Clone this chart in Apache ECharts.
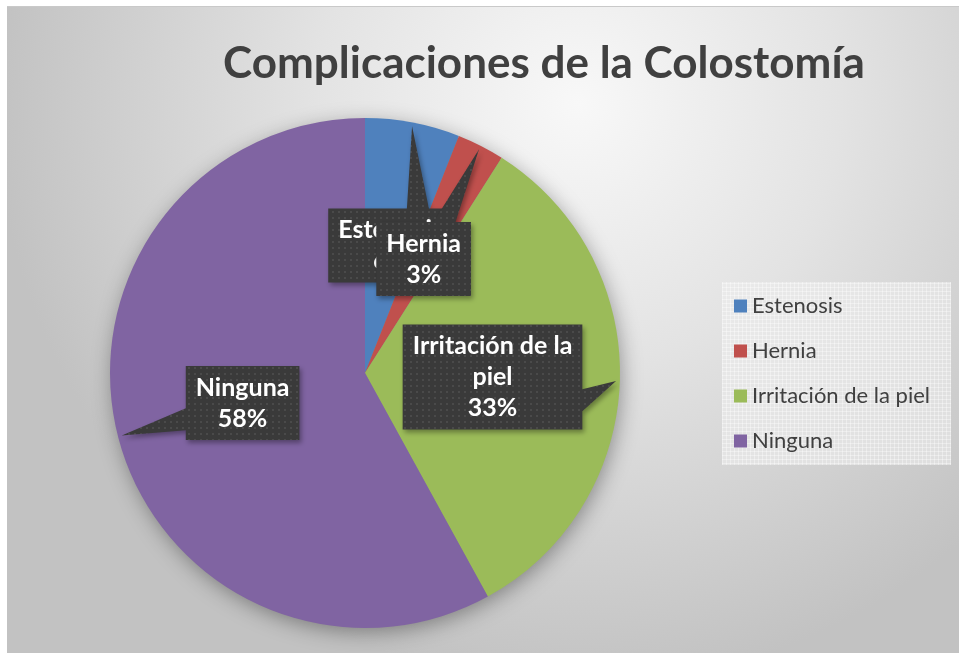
<!DOCTYPE html>
<html><head><meta charset="utf-8">
<script src="https://cdn.jsdelivr.net/npm/echarts@6/dist/echarts.min.js"></script>
<style>
html,body{margin:0;padding:0;background:#fff;width:959px;height:653px;overflow:hidden}
#chart{position:absolute;left:7px;top:6px;width:952px;height:647px}
</style></head><body><div id="chart"></div>
<script>
const titleText = 'Complicaciones de la Colostomía';
const categories = ['Estenosis', 'Hernia', 'Irritación de la piel', 'Ninguna'];
const values = [6, 3, 33, 58];
const colors = ['#4f81bd', '#c0504d', '#9bbb59', '#8064a2'];

const FONT = 'Lato';
function makePattern(w, h, bg, draw) {
  const c = document.createElement('canvas'); c.width = w; c.height = h;
  const g = c.getContext('2d'); g.fillStyle = bg; g.fillRect(0, 0, w, h); draw(g);
  return { image: c, repeat: 'repeat' };
}
const calloutFill = makePattern(6, 6, '#3a3a3a', g => { g.fillStyle = '#4a4a4a'; g.fillRect(1, 1, 2, 2); });
const legendFill = makePattern(4, 4, 'rgba(236,236,236,0.6)', g => { g.fillStyle = 'rgba(255,255,255,0.35)'; g.fillRect(0, 0, 4, 1); g.fillRect(0, 0, 1, 4); });

const chart = echarts.init(document.getElementById('chart'), null, { renderer: 'canvas' });
const CX = 358, CY = 367, R = 255;
const option = {
  animation: false,
  backgroundColor: { type: 'radial', x: 0.6, y: 0.15, r: 0.9, colorStops: [
    { offset: 0, color: '#f8f8f8' }, { offset: 0.45, color: '#e3e3e3' }, { offset: 1, color: '#c2c2c2' }] },
  title: { text: titleText, left: 532, top: 31, textAlign: 'center',
    textStyle: { fontFamily: FONT, fontWeight: 'bold', fontSize: 44, color: '#404040' } },
  legend: { orient: 'vertical', left: 715, top: 276, padding: [13, 21, 13, 12], itemGap: 23,
    itemWidth: 13, itemHeight: 13, icon: 'rect', backgroundColor: legendFill, selectedMode: false,
    textStyle: { fontFamily: FONT, fontSize: 22, color: '#404040', lineHeight: 22 },
    data: categories },
  series: [{
    type: 'pie', center: [CX, CY], radius: R, startAngle: 90, clockwise: true, z: 2,
    label: { show: false }, labelLine: { show: false }, emphasis: { disabled: true },
    itemStyle: { borderWidth: 0 },
    data: categories.map((n, i) => ({ name: n, value: values[i], itemStyle: { color: colors[i] } }))
  }]
};
chart.setOption(option);

// callouts built from the pie's own layout
const calloutOffsets = [[0.10, -0.50], [0.23, -0.447], [0.50, 0.016], [-0.48, 0.118]];
const total = values.reduce((a, b) => a + b, 0);
const mctx = document.createElement('canvas').getContext('2d');
const LFONT = 'bold 25px ' + FONT;
mctx.font = LFONT;
function wrap(text, maxW) {
  const words = text.split(' '); const lines = []; let cur = '';
  words.forEach(w => { const t = cur ? cur + ' ' + w : w; if (mctx.measureText(t).width > maxW && cur) { lines.push(cur); cur = w; } else cur = t; });
  if (cur) lines.push(cur); return lines;
}
let sdata = null;
try { sdata = chart.getModel().getSeriesByIndex(0).getData(); } catch (e) { sdata = null; }
const graphics = [];
let lay0 = sdata ? sdata.getItemLayout(0) : null;
const pcx = lay0 ? lay0.cx : CX, pcy = lay0 ? lay0.cy : CY, pr = lay0 ? lay0.r : R;
graphics.push({ type: 'circle', z: 1, silent: true, shape: { cx: pcx, cy: pcy, r: pr - 2 },
  style: { fill: '#888', shadowBlur: 22, shadowColor: 'rgba(0,0,0,0.4)', shadowOffsetX: 2, shadowOffsetY: 5 } });
graphics.push({ type: 'line', z: 1, silent: true, shape: { x1: 0, y1: 0.5, x2: 952, y2: 0.5 }, style: { stroke: '#c9c9c9', lineWidth: 1 } });
let acc = 0;
categories.forEach((name, i) => {
  let mid;
  const lay = sdata ? sdata.getItemLayout(i) : null;
  if (lay && lay.startAngle != null) mid = (lay.startAngle + lay.endAngle) / 2;
  else { const a0 = acc / total * Math.PI * 2, a1 = (acc + values[i]) / total * Math.PI * 2; mid = -Math.PI / 2 + (a0 + a1) / 2; }
  acc += values[i];
  const tip = [pcx + pr * 0.985 * Math.cos(mid), pcy + pr * 0.985 * Math.sin(mid)];
  const lines = wrap(name, 180).concat([Math.round(values[i] / total * 100) + '%']);
  const tw = Math.max(...lines.map(l => mctx.measureText(l).width));
  const LH = 31, PH = 10, PV = 6;
  const bw = tw + PH * 2, bh = lines.length * LH + PV * 2;
  const bcx = pcx + calloutOffsets[i][0] * pr, bcy = pcy + calloutOffsets[i][1] * pr;
  const x0 = bcx - bw / 2, x1 = bcx + bw / 2, y0 = bcy - bh / 2, y1 = bcy + bh / 2;
  const ndx = (tip[0] - bcx) / (bw / 2), ndy = (tip[1] - bcy) / (bh / 2);
  let edge;
  if (Math.abs(ndx) > Math.abs(ndy)) edge = ndx > 0 ? 'right' : 'left'; else edge = ndy > 0 ? 'bottom' : 'top';
  const hw = 11, fr = 0.72;
  const bx = x0 + bw * fr, by = y0 + bh * fr;
  let pts = [[x0, y0]];
  if (edge === 'top') pts.push([bx - hw, y0], tip, [bx + hw, y0]);
  pts.push([x1, y0]);
  if (edge === 'right') pts.push([x1, by - hw], tip, [x1, by + hw]);
  pts.push([x1, y1]);
  if (edge === 'bottom') pts.push([bx + hw, y1], tip, [bx - hw, y1]);
  pts.push([x0, y1]);
  if (edge === 'left') pts.push([x0, by + hw], tip, [x0, by - hw]);
  graphics.push({ type: 'polygon', z: 10 + i * 2, silent: true, shape: { points: pts },
    style: { fill: calloutFill, shadowBlur: 5, shadowColor: 'rgba(0,0,0,0.35)', shadowOffsetX: 2, shadowOffsetY: 3 } });
  graphics.push({ type: 'text', z: 11 + i * 2, silent: true,
    style: { text: lines.join('\n'), x: bcx, y: bcy, align: 'center', verticalAlign: 'middle',
      font: LFONT, lineHeight: LH, fill: '#ffffff' } });
});
chart.setOption({ graphic: graphics });
</script></body></html>
